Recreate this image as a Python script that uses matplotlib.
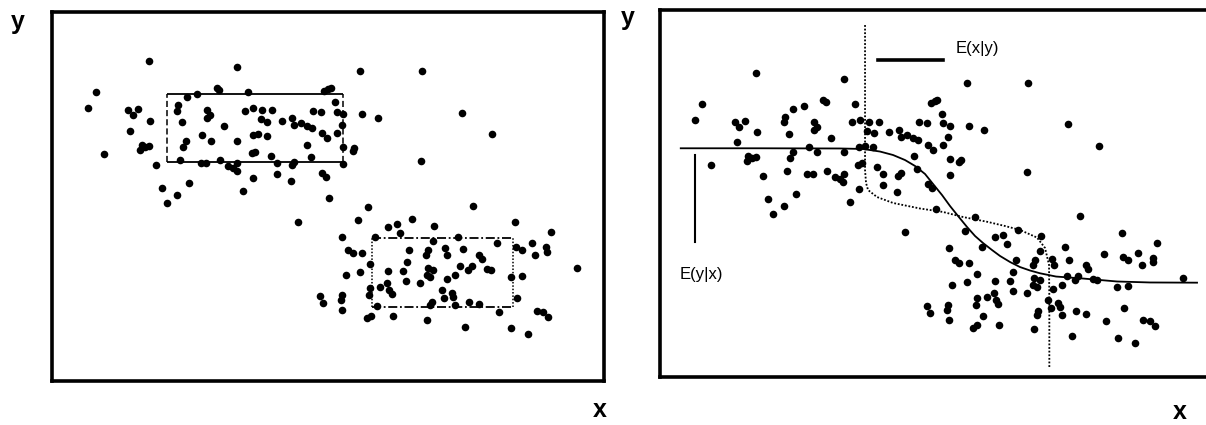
import matplotlib
matplotlib.use('Agg')
import matplotlib.pyplot as plt

plt.rcParams['font.family'] = ['Liberation Sans', 'DejaVu Sans']

# scatter data (arbitrary units, same sample in both panels)
x_pts = [97, 185, 308, 43.7, 36.3, 76.3, 80.7, 86.3, 98, 78, 52, 89.7, 93, 97, 88, 104,
         109.7, 137.3, 125.3, 114.7, 164.7, 167.5, 145.3, 134.7, 126.3, 125.3, 155.3, 158,
         155.3, 172, 130.3, 150.3, 158.7, 134, 131.3, 185.3, 128, 148.7, 154, 168, 176.3,
         181.3, 185.3, 184.7, 196.3, 272.3, 276.3, 278.7, 283, 193, 201.3, 210.3, 220.3,
         260.7, 268.7, 284.7, 291.3, 310.3, 325.7, 208.7, 215.3, 230.3, 240.3, 242, 248.7,
         254.7, 259.7, 289.7, 200.7, 206.3, 214.7, 269.7, 274.7, 284.7, 255.3, 291.3, 302.3,
         300.7, 199.7, 203, 218.7, 258.7, 224.7, 239.7, 242, 291.3, 200.7, 224.7, 238.7,
         269.7, 273.7, 191.3, 277.3, 246.3, 369.7, 409.7, 440.3, 368.7,
         316.3, 306.3, 359.7, 336.3, 344.7, 382, 290.3, 323, 348, 381.3, 296.3, 300.7, 310.3,
         357, 376.3, 374, 393, 395.3, 318, 354.7, 293.7, 308, 336.3, 351.3, 354, 375.7, 381.3,
         374.7, 378, 368, 394.7, 328, 335.3, 337.3, 339.7, 318, 317, 268, 271.3, 289.7, 288.7,
         290.3, 324.7, 379.7, 378, 389.7, 392, 314.7, 318.7, 340.7, 375.3, 421.3, 463, 498.7,
         406.3, 445.3, 464, 469.7, 479.7, 483, 494, 494.7, 410.7, 427.3, 429.7, 408, 416.3,
         419.7, 434.7, 438.7, 524.7, 403, 458.7, 469.7, 399.7, 401.3, 403, 417.3, 427.3, 447.3,
         465.3, 484.7, 491.3, 496.3, 413, 459, 476.3]
y_pts = [320, 314, 310, 289.3, 272.7, 271, 266, 271.7, 260.3, 250.3, 227, 236, 234.3, 235.3,
         231, 216, 192.7, 197.7, 186, 177.7, 292.7, 291.5, 287, 284.3, 276, 270.3, 271, 266,
         262.7, 255, 258.7, 246, 240.3, 240.3, 234.3, 240.3, 221, 217.7, 217.7, 221, 215,
         212.7, 218.3, 210.3, 289.3, 290.3, 291.7, 292.7, 279.3, 270.3, 272.7, 271, 271,
         270.3, 269.3, 269.3, 267, 266.7, 262.7, 261.7, 259.3, 260.3, 262.7, 256, 257.7,
         255, 252.7, 256, 246, 247, 245, 247.7, 242.7, 247.7, 236, 233.7, 232.7,
         230.3, 227.7, 229.3, 225, 223.7, 218.3, 216, 219.3, 217, 202.7, 207, 200,
         207.7, 204.3, 190, 182.7, 159.3, 310, 268.3, 246.7, 220,
         174.3, 161, 161.7, 154.3, 156.7, 155, 143.7, 144.3, 147.7, 140.3, 131, 128.3, 127.7,
         131, 131, 126, 132.7, 126, 117, 119.3, 106, 108.7, 110, 110.3, 100.3, 112.7, 111,
         106, 103.7, 98.3, 101.7, 94.3, 97.7, 91, 87, 92.7, 86, 85, 77.7, 86, 81,
         71, 75, 79.3, 76, 91, 82.7, 62.7, 65, 65, 61, 175.3, 158.7, 148.7,
         144.3, 137.7, 134.3, 131, 138.3, 126, 133.7, 129.3, 131.7, 126, 121.7, 115, 111,
         115, 112, 111, 113.3, 106, 103.7, 105.3, 87.7, 83.7, 76, 79.3, 77, 69.3,
         82.7, 70.3, 69.3, 64.3, 54.3, 52.7, 47]

# rectangles in the left panel: [x0, x1], [y0, y1]
box1_x = [115.3, 290.7]
box1_y = [218.7, 286.7]
box2_x = [319.7, 460.7]
box2_y = [74.3, 142.7]

# E(y|x): conditional mean of y
eyx_x = [22.2, 101.5, 181.5, 204.5, 221.5, 234.5, 246.5, 256.5, 266.5, 274.5, 283.5, 291.5,
         299.5, 308.5, 316.5, 324.5, 333.5, 341.5, 351.5, 361.5, 371.5, 381.5, 397.5, 424.5,
         458.5, 491.5, 538.5]
eyx_y = [244.2, 244.2, 244.0, 243.5, 240.9, 237.4, 232.3, 226.3, 218.2, 208.1, 196.9, 185.8,
         175.7, 164.6, 155.5, 148.4, 141.3, 135.3, 129.2, 124.1, 120.6, 117.8, 114.5, 112.5,
         109.5, 108.5, 108.3]

# E(x|y): conditional mean of x
exy_x = [206.5, 206.5, 206.5, 207.5, 209.5, 218.5, 234.5, 261.5, 284.5, 304.5, 328.5, 346.5,
         361.5, 378.5, 386.5, 390.5, 390.8, 390.8]
exy_y = [368.8, 293.0, 222.2, 209.1, 202.0, 194.9, 188.9, 183.3, 179.8, 174.7, 169.9, 165.6,
         161.6, 153.9, 143.4, 126.2, 90.8, 23.0]

fig = plt.figure(figsize=(12.06, 4.25), dpi=100)
ax1 = fig.add_axes([0.0431, 0.1035, 0.4577, 0.8682])
ax2 = fig.add_axes([0.5473, 0.1129, 0.4577, 0.8635])

for ax in (ax1, ax2):
    ax.scatter(x_pts, y_pts, s=30, color='black', linewidths=0, zorder=3)
    ax.set_xticks([])
    ax.set_yticks([])
    for sp in ax.spines.values():
        sp.set_linewidth(2.6)

ax1.set_xlim(0, 552)
ax1.set_ylim(0, 369)
ax2.set_xlim(1.5, 553.5)
ax2.set_ylim(12.9, 384)

# left panel boxes
ax1.hlines(box1_y, box1_x[0], box1_x[1], color='black', lw=1.3)
ax1.vlines(box1_x, box1_y[0], box1_y[1], color='black', lw=1.1, linestyles=(0, (4, 2)))
ax1.hlines(box2_y, box2_x[0], box2_x[1], color='black', lw=1.3, linestyles=(0, (5, 1.5, 1, 1.5)))
ax1.vlines(box2_x, box2_y[0], box2_y[1], color='black', lw=1.1, linestyles=(0, (1, 1.2)))

# right panel regression curves
ax2.plot(eyx_x, eyx_y, color='black', lw=1.3)
ax2.plot(exy_x, exy_y, color='black', lw=1.3, linestyle=(0, (1, 1)))

# key marks and labels
ax2.plot([0.395, 0.513], [0.864, 0.864], color='black', lw=2.6, transform=ax2.transAxes)
ax2.text(0.536, 0.896, 'E(x|y)', transform=ax2.transAxes, ha='left', va='center', fontsize=12)
ax2.plot([0.0634, 0.0634], [0.605, 0.368], color='black', lw=1.5, transform=ax2.transAxes)
ax2.text(0.0752, 0.278, 'E(y|x)', transform=ax2.transAxes, ha='center', va='center', fontsize=12)

fig.text(0.0149, 0.948, 'y', ha='center', va='center', fontsize=18, weight='bold')
fig.text(0.4975, 0.035, 'x', ha='center', va='center', fontsize=18, weight='bold')
fig.text(0.5207, 0.958, 'y', ha='center', va='center', fontsize=18, weight='bold')
fig.text(0.978, 0.031, 'x', ha='center', va='center', fontsize=18, weight='bold')

fig.savefig('out.png', dpi=100)
